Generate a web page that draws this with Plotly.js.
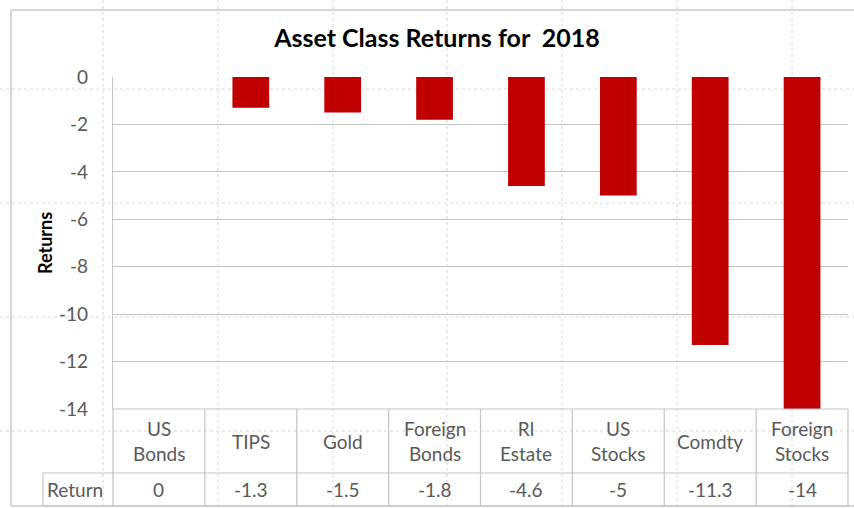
<!DOCTYPE html>
<html>
<head>
<meta charset="utf-8">
<script src="https://cdn.plot.ly/plotly-3.0.1.min.js"></script>
<style>html,body{margin:0;padding:0;background:#fff;}#chart{width:854px;height:508px;}</style>
</head>
<body>
<div id="chart"></div>
<script>
// ---- data ----
const categories = ["US Bonds", "TIPS", "Gold", "Foreign Bonds", "Rl Estate", "US Stocks", "Comdty", "Foreign Stocks"];
const headerLabels = ["US<br>Bonds", "TIPS", "Gold", "Foreign<br>Bonds", "Rl<br>Estate", "US<br>Stocks", "Comdty", "Foreign<br>Stocks"];
const returns = [0, -1.3, -1.5, -1.8, -4.6, -5, -11.3, -14];
const rowLabel = "Return";
const yTicks = [0, -2, -4, -6, -8, -10, -12, -14];

// ---- layout helpers (pixel -> paper) ----
const W = 854, H = 508;
const M = {l: 113, r: 6, t: 77, b: 99};
const PW = W - M.l - M.r, PH = H - M.t - M.b;
const px = x => (x - M.l) / PW;
const py = y => (H - M.b - y) / PH;

const gridCol = "#c3c3c3";
const txtCol = "#595959";
const font = "Lato, 'Open Sans', sans-serif";

const shapes = [];
function line(x0, y0, x1, y1, color, width, dash, layer) {
  shapes.push({type: "line", xref: "paper", yref: "paper",
    x0: px(x0), y0: py(y0), x1: px(x1), y1: py(y1),
    line: {color: color, width: width || 1, dash: dash || "solid"}, layer: layer || "above"});
}
// spreadsheet dotted cell lines (background)
[103, 218, 333, 447, 562, 677, 792].forEach(x => line(x, 0, x, 508, "#d6d6d6", 1, "dot", "below"));
[89, 203, 317, 431].forEach(y => line(0, y, 854, y, "#d6d6d6", 1, "dot", "below"));
// outer chart border
line(11, 10, 860, 10, "#c8c8c8", 1.5);
line(11, 10, 11, 506, "#c8c8c8", 1.5);
line(11, 506, 860, 506, "#c8c8c8", 1.5);
// data table
const tTop = 409, tMid = 473, tBot = 506, tLeft = 43, tRight = 848;
line(M.l, tTop, tRight, tTop, gridCol, 1.2);
line(tLeft, tMid, tRight, tMid, gridCol, 1.2);
line(tLeft, tBot, tRight, tBot, gridCol, 1.2);
line(tLeft, tMid, tLeft, tBot, gridCol, 1.2);
for (let i = 0; i <= categories.length; i++) {
  const x = M.l + PW * i / categories.length;
  line(x, tTop, x, tBot, gridCol, 1.2);
}

const tableFont = {family: font, size: 19, color: txtCol};
const annotations = [];
categories.forEach((c, i) => {
  annotations.push({xref: "x", yref: "paper", x: i, y: py((tTop + tMid) / 2),
    text: headerLabels[i], showarrow: false, xanchor: "center", yanchor: "middle",
    font: tableFont});
  annotations.push({xref: "x", yref: "paper", x: i, y: py((tMid + tBot) / 2),
    text: String(returns[i]), showarrow: false, xanchor: "center", yanchor: "middle",
    font: tableFont});
});
annotations.push({xref: "paper", yref: "paper", x: px(45), y: py((tMid + tBot) / 2),
  text: rowLabel, showarrow: false, xanchor: "left", yanchor: "middle",
  font: tableFont});
annotations.push({xref: "paper", yref: "paper", x: px(45), y: 0.5,
  text: "<b>Returns</b>", showarrow: false, textangle: -90, xanchor: "center", yanchor: "middle",
  font: {family: font, size: 18, color: "#000"}});

const trace = {
  type: "bar", x: categories, y: returns,
  marker: {color: "#c00000", line: {width: 0}},
  width: 0.4, hoverinfo: "x+y"
};

const layout = {
  width: W, height: H,
  margin: M,
  paper_bgcolor: "#fff", plot_bgcolor: "rgba(0,0,0,0)",
  showlegend: false,
  title: {text: "<b>Asset Class Returns for  2018</b>", x: 437 / W, xanchor: "center",
    y: 1 - 38 / H, yanchor: "middle", font: {family: font, size: 25, color: "#000"}},
  xaxis: {type: "category", range: [-0.5, 7.5], showticklabels: false, showgrid: false,
    zeroline: false, showline: false, fixedrange: true},
  yaxis: {range: [-14, 0], tickvals: yTicks, ticktext: yTicks.map(String),
    showgrid: true, gridcolor: gridCol, gridwidth: 1.2, zeroline: false,
    showline: true, linecolor: gridCol, linewidth: 1.2,
    tickfont: {family: font, size: 19, color: txtCol}, ticklabelstandoff: 20, fixedrange: true},
  shapes: shapes,
  annotations: annotations
};

Plotly.newPlot("chart", [trace], layout, {displayModeBar: false, staticPlot: true});
</script>
</body>
</html>
